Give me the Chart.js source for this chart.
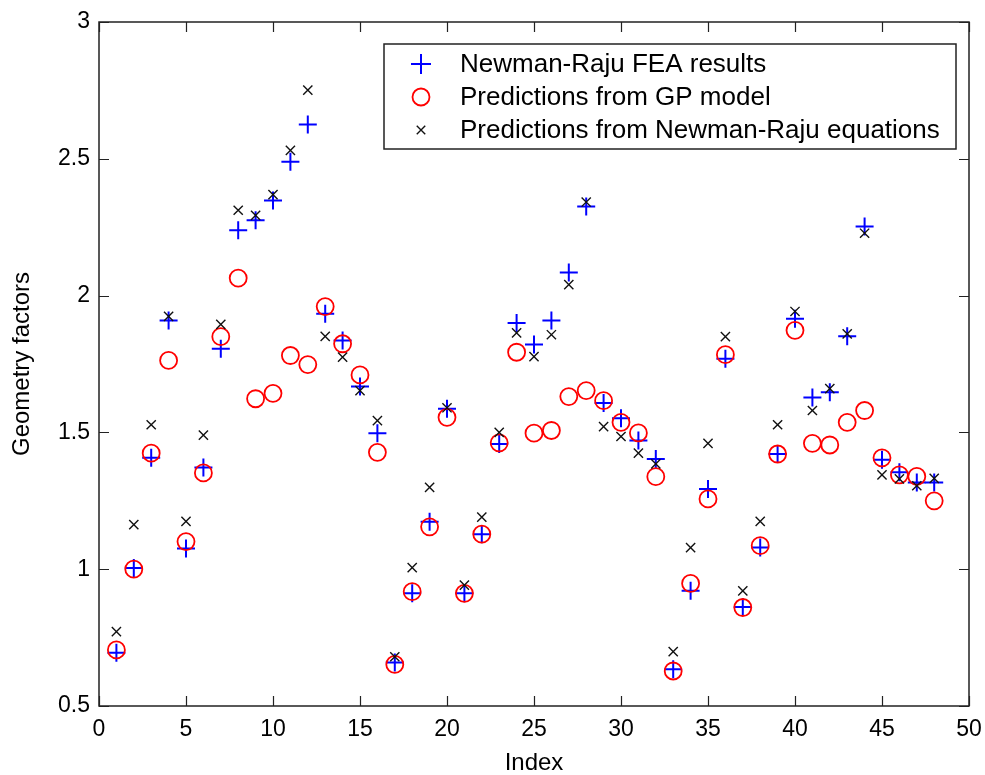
<!DOCTYPE html>
<html><head><meta charset="utf-8">
<script src="https://cdn.jsdelivr.net/npm/chart.js@4/dist/chart.umd.min.js"></script>
<style>html,body{margin:0;padding:0;background:#fff;}canvas{display:block;}</style>
</head><body>
<canvas id="c" width="985" height="775"></canvas>
<script>
const indices = [1,2,3,4,5,6,7,8,9,10,11,12,13,14,15,16,17,18,19,20,21,22,23,24,25,26,27,28,29,30,31,32,33,34,35,36,37,38,39,40,41,42,43,44,45,46,47,48];
const feaResults = [0.695,1.004,1.407,1.909,1.076,1.372,1.806,2.239,2.275,2.348,2.489,2.625,1.934,1.836,1.668,1.497,0.659,0.912,1.173,1.586,0.912,1.128,1.458,1.900,1.821,1.909,2.084,2.326,1.607,1.552,1.470,1.403,0.634,0.921,1.293,1.769,0.862,1.079,1.421,1.915,1.628,1.647,1.851,2.253,1.400,1.354,1.317,1.317];
const gpPredictions = [0.705,1.000,1.424,1.763,1.101,1.352,1.850,2.064,1.623,1.643,1.781,1.748,1.960,1.824,1.710,1.427,0.652,0.918,1.155,1.555,0.912,1.128,1.462,1.793,1.497,1.507,1.631,1.653,1.616,1.537,1.498,1.338,0.628,0.948,1.257,1.784,0.860,1.086,1.421,1.873,1.460,1.454,1.537,1.580,1.407,1.345,1.339,1.250];
const nrPredictions = [0.772,1.163,1.528,1.924,1.175,1.490,1.895,2.312,2.293,2.369,2.531,2.751,1.851,1.775,1.653,1.543,0.680,1.006,1.299,1.590,0.942,1.190,1.500,1.864,1.777,1.857,2.040,2.342,1.521,1.485,1.424,1.385,0.699,1.079,1.460,1.850,0.921,1.175,1.528,1.942,1.580,1.660,1.860,2.228,1.345,1.330,1.305,1.332];
const xTicks = [0,5,10,15,20,25,30,35,40,45,50];
const yTicks = [0.5,1,1.5,2,2.5,3];
const seriesLabels = ['Newman-Raju FEA results','Predictions from GP model','Predictions from Newman-Raju equations'];

const FONT = '"Liberation Sans", Arial, sans-serif';
const toPoints = arr => indices.map((x, i) => ({x: x, y: arr[i]}));

const framePlugin = {
  id: 'frame',
  afterDraw(chart) {
    const ctx = chart.ctx, a = chart.chartArea;
    const xs = chart.scales.x, ys = chart.scales.y;
    ctx.save();
    ctx.strokeStyle = '#222';
    ctx.lineWidth = 1.5;
    ctx.strokeRect(a.left, a.top, a.right - a.left, a.bottom - a.top);
    ctx.beginPath();
    const tl = 10;
    xs.ticks.forEach(t => {
      const px = Math.round(xs.getPixelForValue(t.value)) + 0.5;
      ctx.moveTo(px, a.bottom); ctx.lineTo(px, a.bottom - tl);
      ctx.moveTo(px, a.top); ctx.lineTo(px, a.top + tl);
    });
    ys.ticks.forEach(t => {
      const py = Math.round(ys.getPixelForValue(t.value)) + 0.5;
      ctx.moveTo(a.left, py); ctx.lineTo(a.left + tl, py);
      ctx.moveTo(a.right, py); ctx.lineTo(a.right - tl, py);
    });
    ctx.lineWidth = 1.2;
    ctx.stroke();

    // legend box
    const bx = 384, by = 44, bw = 572, bh = 105;
    ctx.fillStyle = '#fff';
    ctx.fillRect(bx, by, bw, bh);
    ctx.lineWidth = 1.5;
    ctx.strokeStyle = '#222';
    ctx.strokeRect(bx, by, bw, bh);
    ctx.font = '26px ' + FONT;
    ctx.textBaseline = 'middle';
    ctx.textAlign = 'left';
    chart.data.datasets.forEach((ds, i) => {
      const cy = 64 + i * 33;
      ctx.strokeStyle = ds.pointBorderColor;
      ctx.fillStyle = ds.pointBackgroundColor;
      ctx.lineWidth = ds.pointBorderWidth;
      Chart.helpers.drawPoint(ctx, {pointStyle: ds.pointStyle, radius: ds.legendRadius, borderWidth: ds.pointBorderWidth, rotation: 0}, 421, cy);
      ctx.fillStyle = '#000';
      ctx.fillText(ds.label, 460, cy + 1);
    });
    ctx.restore();
  }
};

new Chart(document.getElementById('c'), {
  type: 'scatter',
  data: {
    datasets: [
      {label: seriesLabels[0], data: toPoints(feaResults), pointStyle: 'cross', pointRadius: 9, legendRadius: 10,
       pointBorderWidth: 2, pointBorderColor: '#0000ff', pointBackgroundColor: '#0000ff', order: 3},
      {label: seriesLabels[1], data: toPoints(gpPredictions), pointStyle: 'circle', pointRadius: 8.5, legendRadius: 8.5,
       pointBorderWidth: 1.8, pointBorderColor: '#ff0000', pointBackgroundColor: 'rgba(0,0,0,0)', order: 2},
      {label: seriesLabels[2], data: toPoints(nrPredictions), pointStyle: 'crossRot', pointRadius: 6.5, legendRadius: 6,
       pointBorderWidth: 1.4, pointBorderColor: '#111', pointBackgroundColor: '#111', order: 1}
    ]
  },
  options: {
    responsive: false,
    animation: false,
    devicePixelRatio: 1,
    layout: {padding: {top: 22, right: 16, left: 0, bottom: 0}},
    plugins: {legend: {display: false}, tooltip: {enabled: false}},
    scales: {
      x: {
        type: 'linear', min: 0, max: 50,
        afterBuildTicks: s => { s.ticks = xTicks.map(v => ({value: v})); },
        afterFit: s => { s.height = 69; s.paddingLeft = 0; s.paddingRight = 0; },
        grid: {display: false, drawTicks: false},
        border: {display: false},
        ticks: {padding: 10, color: '#000', autoSkip: false, maxRotation: 0, font: {family: FONT, size: 23},
                callback: v => String(v)},
        title: {display: true, text: 'Index', color: '#000', font: {family: FONT, size: 24, lineHeight: 1}, padding: 0}
      },
      y: {
        type: 'linear', min: 0.5, max: 3,
        afterBuildTicks: s => { s.ticks = yTicks.map(v => ({value: v})); },
        afterFit: s => { s.width = 99; s.paddingTop = 0; s.paddingBottom = 0; },
        grid: {display: false, drawTicks: false},
        border: {display: false},
        ticks: {padding: 9, color: '#000', autoSkip: false, font: {family: FONT, size: 23},
                callback: v => String(v)},
        title: {display: true, text: 'Geometry factors', color: '#000', font: {family: FONT, size: 24, lineHeight: 1}, padding: {top: 10, bottom: 0}}
      }
    }
  },
  plugins: [framePlugin]
});
</script>
</body></html>
